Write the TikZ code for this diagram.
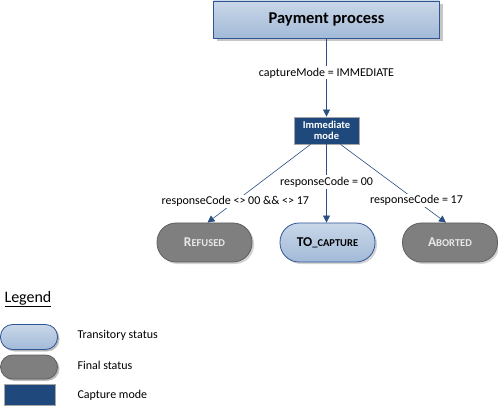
\documentclass[tikz,border=0pt]{standalone}
\usepackage{fontspec}
\setmainfont{Carlito}
\usetikzlibrary{shadows,arrows.meta}
\definecolor{darkblue}{HTML}{1F497D}
\definecolor{lineblue}{HTML}{2A4F80}
\definecolor{lightA}{HTML}{C9D7E8}
\definecolor{lightB}{HTML}{A2BAD8}
\definecolor{borderblue}{HTML}{2F5597}
\definecolor{finalfill}{HTML}{7F7F7F}
\definecolor{finalborder}{HTML}{5F5F5F}
\definecolor{finaltext}{HTML}{E8E8E8}
\newcommand{\sctext}[2]{{\fontsize{13.5}{15}\selectfont #1}{\fontsize{10.5}{12}\selectfont #2}}
\tikzset{
  x=1pt, y=-1pt,
  procbox/.style={draw=borderblue, line width=0.8pt, top color=lightA, bottom color=lightB,
    minimum width=226pt, minimum height=37pt, inner sep=0pt,
    drop shadow={shadow xshift=3pt, shadow yshift=-3pt, opacity=0.45},
    font=\fontsize{16.5}{18}\selectfont\bfseries},
  modebox/.style={draw=gray!70, line width=0.8pt, fill=darkblue, text=white,
    minimum width=65pt, minimum height=27pt, inner sep=1pt, align=center,
    font=\fontsize{10.5}{11.5}\selectfont\bfseries},
  transpill/.style={draw=borderblue, line width=0.8pt, top color=lightA, bottom color=lightB,
    rounded corners=19pt, minimum width=95pt, minimum height=39pt, inner sep=0pt,
    drop shadow={shadow xshift=2pt, shadow yshift=-2pt, opacity=0.35},
    font=\bfseries},
  finalpill/.style={draw=finalborder, line width=0.8pt, fill=finalfill, text=finaltext,
    rounded corners=19pt, minimum width=95pt, minimum height=39pt, inner sep=0pt,
    drop shadow={shadow xshift=2pt, shadow yshift=-2pt, opacity=0.35},
    font=\bfseries},
  conn/.style={draw=lineblue, line width=0.6pt, -{Triangle[length=7pt,width=7pt]}},
  lbl/.style={fill=white, inner sep=1.5pt, font=\fontsize{12}{14}\selectfont},
  legtext/.style={anchor=west, font=\fontsize{12}{14}\selectfont},
}
\begin{document}
\begin{tikzpicture}
\useasboundingbox (0,0) rectangle (498,406);
\node[procbox] (pay) at (326.5,19.5) {Payment process};
\node[modebox] (imm) at (326.5,130.5) {Immediate\\mode};
\node[finalpill] (ref) at (204.5,242.5) {\sctext{R}{EFUSED}};
\node[transpill] (cap) at (327.5,242.5) {\sctext{T}{\sctext{O}{\_CAPTURE}}};
\node[finalpill] (abo) at (450,242.5) {\sctext{A}{BORTED}};

\draw[conn] (pay.south) -- node[lbl, pos=0.44] (l1) {captureMode = IMMEDIATE} (imm.north);
\draw[conn] ([xshift=-16pt]imm.south) -- node[lbl, pos=0.73] (l2) {responseCode <> 00 \&\& <> 17} ([xshift=3pt]ref.north);
\draw[conn] (imm.south) -- node[lbl, pos=0.48] (l3) {responseCode = 00} (cap.north -| imm.south);
\draw[conn] ([xshift=14pt]imm.south) -- node[lbl, pos=0.72] (l4) {responseCode = 17} ([xshift=-4pt]abo.north);

% Legend
\node[anchor=west, font=\fontsize{16}{18}\selectfont] (leg) at (1,299) {\underline{Legend}};
\node[transpill, rounded corners=12pt, minimum width=57pt, minimum height=25pt,
  drop shadow={shadow xshift=1.5pt, shadow yshift=-1.5pt, opacity=0.35}] (lt) at (29,337) {};
\node[finalpill, rounded corners=12pt, minimum width=57pt, minimum height=24pt,
  drop shadow={shadow xshift=1.5pt, shadow yshift=-1.5pt, opacity=0.35}] (lf) at (29,367) {};
\node[modebox, minimum width=51pt, minimum height=21pt] (lm) at (29.5,394.5) {};
\node[legtext] (tt) at (74,335) {Transitory status};
\node[legtext] (tf) at (74,365) {Final status};
\node[legtext] (tm) at (74,395) {Capture mode};
\end{tikzpicture}
\end{document}
